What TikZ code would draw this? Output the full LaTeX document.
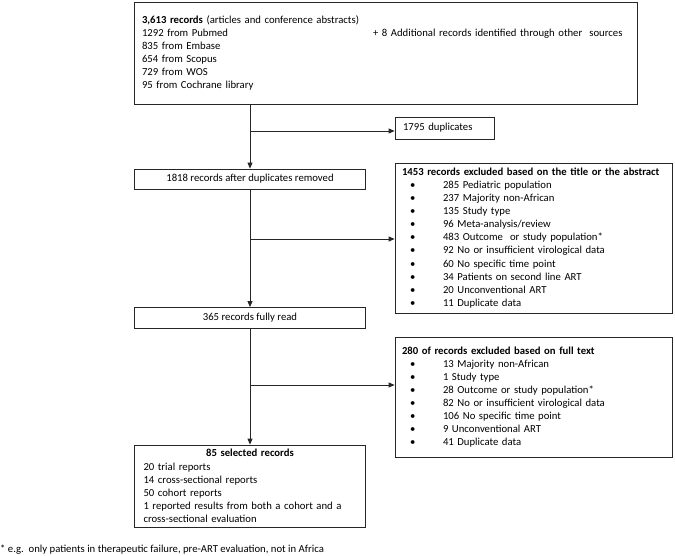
\documentclass[tikz,border=0pt]{standalone}
\usepackage{fontspec}
\setmainfont{Carlito}
\usetikzlibrary{arrows.meta}
\newcommand\bitem{\hspace*{8pt}\makebox[33pt][l]{•}}
\newcommand\fsz{\fontsize{10.7}{13.1}\selectfont}
\begin{document}
\begin{tikzpicture}[x=1pt,y=-1pt,
  box/.style={draw=black!85, line width=0.8pt, inner xsep=8pt, inner ysep=0pt, font=\fsz},
  arr/.style={draw=black!85, line width=0.8pt, -{Triangle[length=6pt,width=5pt]}},
  ]
\useasboundingbox (0,0) rectangle (675,556);

\node[box, minimum width=503pt, minimum height=102pt, text width=487pt, align=left] (top) at (385.5,53)
 {\textbf{3,613 records} (articles and conference abstracts)\\
  \makebox[231pt][l]{1292 from\ Pubmed}+ 8 Additional records identified through other\ \ sources\\
  835 from Embase\\
  654 from Scopus\\
  729 from\ WOS\\
  95 from Cochrane library};

\node[box, minimum width=99pt, minimum height=22pt, text width=83pt, align=left] (dup) at (444.5,128) {1795 duplicates};

\node[box, minimum width=231pt, minimum height=20pt, align=center] (r1818) at (250,179) {1818 records after duplicates removed};

\node[box, minimum width=277pt, minimum height=150pt, text width=263pt, inner xsep=7pt, align=left] (ex1) at (533.5,238)
 {\textbf{1453 records excluded based on the title or the abstract}\\
  \bitem 285 Pediatric population\\
  \bitem 237 Majority non-African\\
  \bitem 135 Study type\\
  \bitem 96 Meta-analysis/review\\
  \bitem 483 Outcome\ \ or study population*\\
  \bitem 92 No or insufficient virological data\\
  \bitem 60 No specific time point\\
  \bitem 34 Patients on second line ART\\
  \bitem 20 Unconventional ART\\
  \bitem 11 Duplicate data};

\node[box, minimum width=231pt, minimum height=21pt, align=center] (r365) at (250,318) {365 records fully read};

\node[box, minimum width=277pt, minimum height=120pt, text width=263pt, inner xsep=7pt, align=left] (ex2) at (533.5,397)
 {\textbf{280 of records excluded based on full text}\\
  \bitem 13 Majority non-African\\
  \bitem 1 Study type\\
  \bitem 28 Outcome or study population*\\
  \bitem 82 No or insufficient virological data\\
  \bitem 106 No specific time point\\
  \bitem 9 Unconventional ART\\
  \bitem 41 Duplicate data};

\node[box, minimum width=231pt, minimum height=82pt, text width=213pt, inner xsep=9pt, align=left] (sel) at (250,486)
 {\makebox[213pt]{\textbf{85 selected records}}\\
  20 trial reports\\
  14 cross-sectional reports\\
  50 cohort reports\\
  1 reported\ results from both\ a cohort and a\\
  cross-sectional evaluation};

\node[anchor=base west, inner sep=0pt, font=\fsz] (fn) at (0,552)
 {* e.g.\ \ only patients in therapeutic failure, pre-ART\ evaluation, not in Africa};

\coordinate (b1) at (250,131);
\coordinate (b2) at (250,239);
\coordinate (b3) at (250,385);

\draw[arr] (top.south -| r1818.north) -- (r1818.north);
\draw[arr] (b1) -- (b1 -| dup.west);
\draw[arr] (r1818.south) -- (r365.north);
\draw[arr] (b2) -- (b2 -| ex1.west);
\draw[arr] (r365.south) -- (sel.north);
\draw[arr] (b3) -- (b3 -| ex2.west);
\end{tikzpicture}
\end{document}
